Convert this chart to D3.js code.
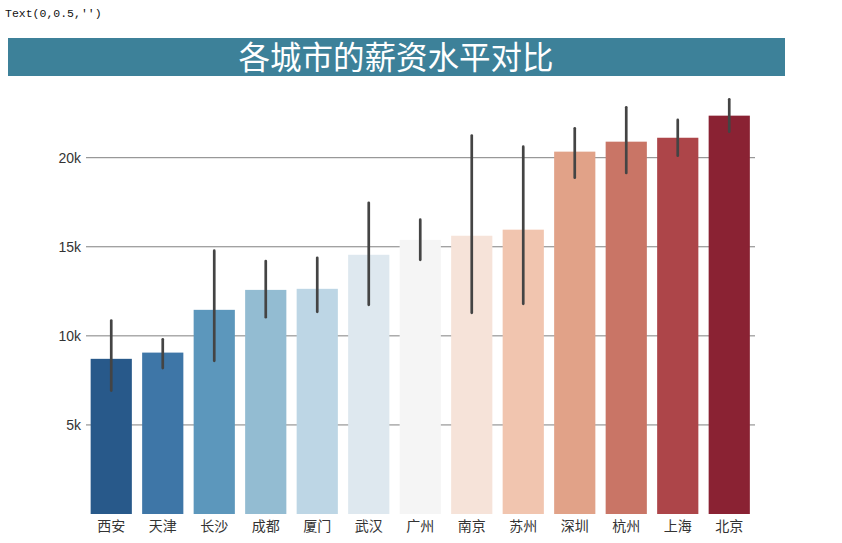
<!DOCTYPE html>
<html><head><meta charset="utf-8">
<script src="https://cdn.jsdelivr.net/npm/d3@7"></script>
<style>body{margin:0;background:#fff}svg{display:block}</style>
</head><body>
<svg id="c" width="842" height="543"></svg>
<script>
const cities = ["西安","天津","长沙","成都","厦门","武汉","广州","南京","苏州","深圳","杭州","上海","北京"];
const salary = [8710,9060,11460,12580,12640,14550,15390,15620,15960,20340,20900,21120,22360];
const errLow = [6930,8190,8600,11050,11350,11740,14270,11290,11800,18880,19140,20110,21460];
const errHigh = [10860,9810,14780,14200,14380,17470,16520,21240,20620,21650,22830,22120,23280];
const colors = ["#28598a","#3e76a7","#5c97bc","#93bcd2","#bdd6e5","#dee8ef","#f5f5f5","#f6e3d9","#f1c5af","#e1a288","#c97566","#ad4549","#8a2233"];
const yTicks = [5000,10000,15000,20000];
const yTickLabels = ["5k","10k","15k","20k"];
const title = "各城市的薪资水平对比";

const svg = d3.select("#c");
svg.append("text").attr("x",5).attr("y",17).attr("font-family","Liberation Mono, monospace")
  .attr("font-size",11.5).attr("fill","#111").text("Text(0,0.5,'')");

svg.append("rect").attr("x",8).attr("y",38).attr("width",777).attr("height",38).attr("fill","#3d8199");
svg.append("text").attr("x",396).attr("y",69).attr("text-anchor","middle")
  .attr("font-family","Noto Sans CJK SC").attr("font-size",31.5).attr("fill","#fff").text(title);

const x = d3.scaleBand().domain(cities).range([85.5,755]).paddingInner(0.2).paddingOuter(0.1);
const y = d3.scaleLinear().domain([0,20000]).range([514,157.7]);

const g = svg.append("g");
g.selectAll("line.grid").data(yTicks).join("line").attr("class","grid")
  .attr("x1",86).attr("x2",755).attr("y1",d=>y(d)).attr("y2",d=>y(d))
  .attr("stroke","#808080").attr("stroke-width",1);
g.selectAll("text.yt").data(yTicks).join("text").attr("class","yt")
  .attr("x",81).attr("y",d=>y(d)).attr("dy","0.35em").attr("text-anchor","end")
  .attr("font-family","Liberation Sans Narrow, Liberation Sans, Arial, sans-serif").attr("font-size",14).attr("fill","#333")
  .text((d,i)=>yTickLabels[i]);

g.selectAll("rect.bar").data(cities).join("rect").attr("class","bar")
  .attr("x",d=>x(d)).attr("width",x.bandwidth())
  .attr("y",(d,i)=>y(salary[i])).attr("height",(d,i)=>y(0)-y(salary[i]))
  .attr("fill",(d,i)=>colors[i]);

g.selectAll("line.err").data(cities).join("line").attr("class","err")
  .attr("x1",d=>x(d)+x.bandwidth()/2).attr("x2",d=>x(d)+x.bandwidth()/2)
  .attr("y1",(d,i)=>y(errLow[i])).attr("y2",(d,i)=>y(errHigh[i]))
  .attr("stroke","#444").attr("stroke-width",2.7).attr("stroke-linecap","round");

g.selectAll("text.xt").data(cities).join("text").attr("class","xt")
  .attr("x",d=>x(d)+x.bandwidth()/2).attr("y",531).attr("text-anchor","middle")
  .attr("font-family","Noto Sans CJK SC").attr("font-size",14).attr("fill","#333").text(d=>d);
</script>
</body></html>
